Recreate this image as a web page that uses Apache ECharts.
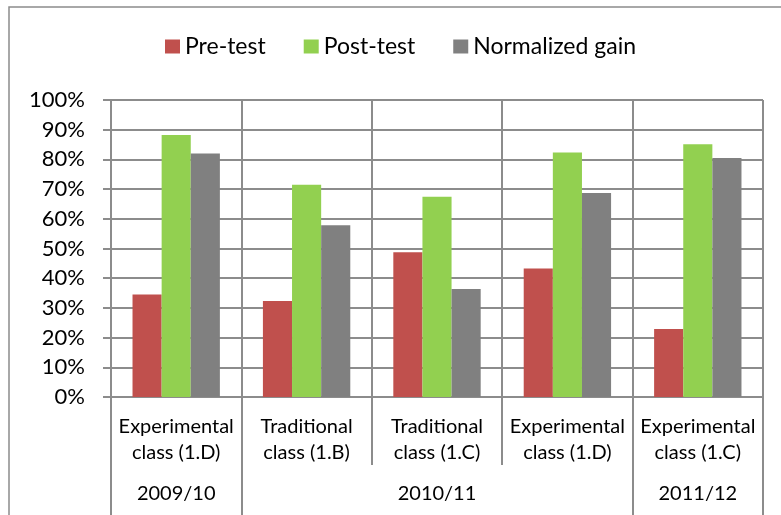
<!DOCTYPE html>
<html>
<head>
<meta charset="utf-8">
<script src="https://cdn.jsdelivr.net/npm/echarts@6/dist/echarts.min.js"></script>
<style>
  html, body { margin: 0; padding: 0; background: #fff; }
  #chart { width: 781px; height: 515px; }
</style>
</head>
<body>
<div id="chart"></div>
<script>
// Class labels (two lines) and the school year each class belongs to
const classLabels = [
  'Experimental\nclass (1.D)',
  'Traditional\nclass (1.B)',
  'Traditional\nclass (1.C)',
  'Experimental\nclass (1.D)',
  'Experimental\nclass (1.C)'
];
const yearLabels = ['2009/10', '', '2010/11', '', '2011/12'];
// Year groups start at these class indices (used for the long separators)
const yearStarts = [0, 1, 4];

// Scores in percent
const preTest = [34.5, 32.3, 48.7, 43.3, 22.9];
const postTest = [88.2, 71.5, 67.4, 82.3, 85.1];
const normalizedGain = [82.0, 57.8, 36.4, 68.7, 80.5];

const seriesNames = ['Pre-test', 'Post-test', 'Normalized gain'];
const seriesColors = ['#C0504D', '#92D050', '#808080'];

const FONT = 'Lato, sans-serif';
const LINE = '#8c8c8c';

const chart = echarts.init(document.getElementById('chart'), null, { renderer: 'canvas' });

const barStyle = (i) => ({
  name: seriesNames[i],
  type: 'bar',
  barGap: '0%',
  barCategoryGap: '33%',
  itemStyle: { color: seriesColors[i] },
  data: [preTest, postTest, normalizedGain][i]
});

chart.setOption({
  animation: false,
  backgroundColor: '#fff',
  color: seriesColors,
  graphic: [{
    type: 'rect',
    shape: { x: 9, y: 7, width: 900, height: 700 },
    style: { fill: 'none', stroke: '#8c8c8c', lineWidth: 1.5 },
    silent: true
  }],
  legend: {
    left: 165,
    top: 35,
    padding: 0,
    itemWidth: 15,
    itemHeight: 14,
    itemGap: 38,
    icon: 'rect',
    textStyle: { fontFamily: FONT, fontSize: 23, color: '#000' },
    data: seriesNames
  },
  grid: { left: 111, right: 18, top: 100, bottom: 118, containLabel: false },
  xAxis: [{
    type: 'category',
    data: classLabels,
    position: 'bottom',
    axisLine: { show: true, lineStyle: { color: LINE, width: 2 } },
    axisTick: { show: true, length: 68, lineStyle: { color: LINE, width: 2 } },
    axisLabel: {
      interval: 0,
      margin: 17,
      fontFamily: FONT,
      fontSize: 20,
      lineHeight: 26,
      color: '#000'
    },
    splitLine: { show: true, interval: 0, lineStyle: { color: LINE, width: 2 } }
  }, {
    type: 'category',
    data: yearLabels,
    position: 'bottom',
    offset: 0,
    axisLine: { show: false },
    axisTick: {
      show: true,
      length: 118,
      interval: (idx) => yearStarts.indexOf(idx) >= 0,
      lineStyle: { color: LINE, width: 2 }
    },
    axisLabel: {
      interval: 0,
      margin: 84,
      fontFamily: FONT,
      fontSize: 20,
      lineHeight: 26,
      color: '#000'
    },
    splitLine: { show: false }
  }],
  yAxis: {
    type: 'value',
    min: 0,
    max: 100,
    interval: 10,
    axisLine: { show: true, lineStyle: { color: LINE, width: 2 } },
    axisTick: { show: true, length: 8, lineStyle: { color: LINE, width: 2 } },
    axisLabel: {
      formatter: '{value}%',
      margin: 26,
      fontFamily: FONT,
      fontSize: 22,
      color: '#000'
    },
    splitLine: { show: true, lineStyle: { color: LINE, width: 2 } }
  },
  series: [barStyle(0), barStyle(1), barStyle(2)]
});
</script>
</body>
</html>
